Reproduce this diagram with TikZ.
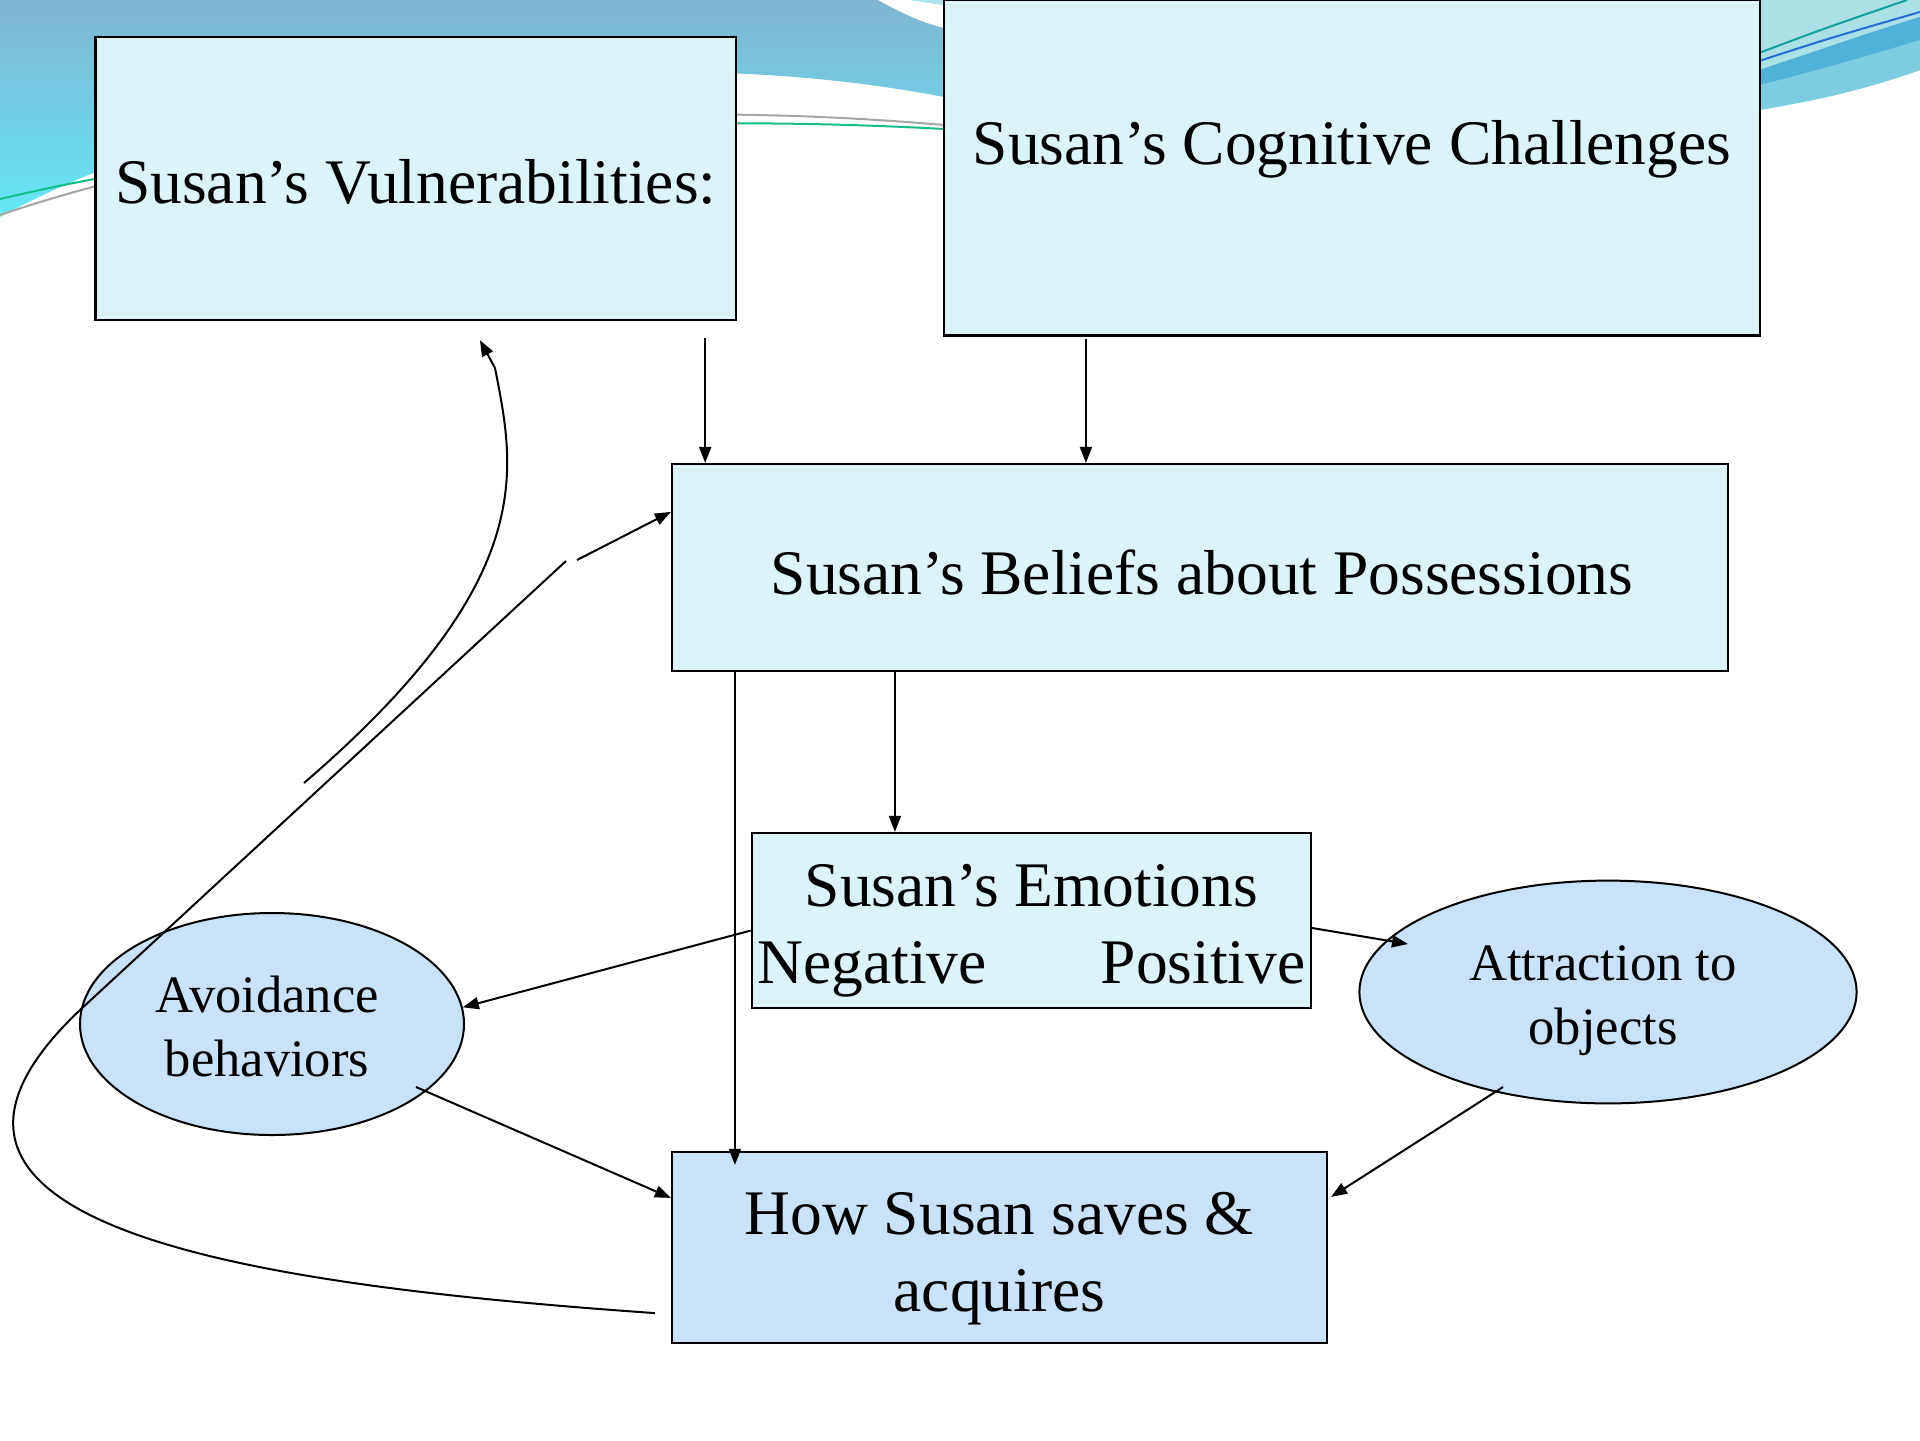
\documentclass[tikz,border=0pt]{standalone}
\usepackage{fontspec}
\setmainfont{Liberation Serif}
\usetikzlibrary{arrows.meta,shapes.geometric,calc}
\definecolor{boxfill}{RGB}{218,244,248}
\definecolor{ovalfill}{RGB}{200,226,250}
\definecolor{tlA}{RGB}{128,180,210}
\definecolor{tlB}{RGB}{100,232,244}
\definecolor{ltcyan}{RGB}{170,228,236}
\definecolor{rteal}{RGB}{170,224,230}
\definecolor{rlow}{RGB}{125,205,225}
\definecolor{rdark}{RGB}{80,178,215}
\definecolor{tealline}{RGB}{20,160,160}
\definecolor{blueline}{RGB}{40,110,210}
\definecolor{linegreen}{RGB}{20,190,140}
\newcommand\boxfont{\fontsize{31.75pt}{38.5pt}\selectfont}
\newcommand\ovalfont{\fontsize{26.3pt}{31.75pt}\selectfont}
\begin{document}
\begin{tikzpicture}[x=0.5pt,y=-0.5pt,
  box/.style={draw=black, line width=1.1pt, fill=boxfill, inner sep=0pt},
  oval/.style={ellipse, draw=black, line width=1pt, fill=ovalfill, inner sep=0pt},
  btext/.style={inner sep=0pt, align=center, font=\boxfont},
  otext/.style={inner sep=0pt, align=center, font=\ovalfont},
  conn/.style={line width=1pt, draw=black},
  arr/.style={conn, -{Triangle[length=8pt,width=6pt]}}]
\useasboundingbox (0,0) rectangle (1920,1440);
\fill[white] (0,0) rectangle (1920,1440);
% top-left swoosh
\shade[top color=tlA, bottom color=tlB] (0,0) -- (944,0) -- (944,97) .. controls (650,40) and (250,80) .. (0,217) -- cycle;
\fill[white] (878,0) .. controls (900,12) and (920,22) .. (944,28) -- (944,5) .. controls (930,3) and (918,1) .. (910,0) -- cycle;
\fill[ltcyan] (910,0) .. controls (918,1) and (930,3) .. (944,5) -- (944,0) -- cycle;
\draw[gray!70, line width=1pt] (0,215) .. controls (250,130) and (600,95) .. (944,125);
\draw[linegreen, line width=1pt] (0,199) .. controls (250,140) and (600,110) .. (944,129);
% top-right swoosh
\fill[rteal] (1759,0) -- (1920,0) -- (1920,70) .. controls (1870,88) and (1820,100) .. (1759,110) -- cycle;
\fill[rlow] (1759,85) .. controls (1820,70) and (1870,55) .. (1920,40) -- (1920,70) .. controls (1870,88) and (1820,100) .. (1759,110) -- cycle;
\fill[rdark] (1759,70) .. controls (1820,50) and (1870,32) .. (1920,17) -- (1920,40) .. controls (1870,55) and (1820,70) .. (1759,85) -- cycle;
\draw[tealline, line width=1pt] (1759,53) .. controls (1820,30) .. (1907,0);
\draw[blueline, line width=1pt] (1759,61) .. controls (1830,38) .. (1920,12);
% boxes and ovals
\node[box, minimum width=320.25pt, minimum height=141.5pt] (vul) at (415.8,178.2) {};
\node[box, minimum width=407.8pt, minimum height=167.75pt] (cog) at (1351.8,167.75) {};
\node[box, minimum width=528pt, minimum height=103.5pt] (bel) at (1200,567.5) {};
\node[box, minimum width=279.5pt, minimum height=87.5pt] (emo) at (1031.5,920.5) {};
\node[box, fill=ovalfill, minimum width=327.5pt, minimum height=95.5pt] (how) at (999.5,1247.5) {};
\node[oval, minimum width=192pt, minimum height=111pt] (avoid) at (272,1024) {};
\node[oval, minimum width=248.6pt, minimum height=111.4pt] (attr) at (1608,992) {};
% texts
\node[btext] (vultext) at (415.8,182) {Susan’s Vulnerabilities:};
\node[btext] (cogtext) at (1352,149) {Susan’s Cognitive Challenges};
\node[btext] (beltext) at (1202,572.5) {Susan’s Beliefs about Possessions};
\node[btext] (emotext) at (1031.5,930.5) {Susan’s Emotions\\\makebox[274pt]{Negative\hfill Positive}};
\node[btext] (howtext) at (999.5,1258.5) {How Susan saves \&\\acquires};
\node[otext] (avoidtext) at (267,1026.5) {Avoidance\\behaviors};
\node[otext] (attrtext) at (1603,1000.5) {Attraction to\\objects};
% connectors
\coordinate (v1) at ($(vul.south east)+(-32,17)$);
\draw[arr] (v1) -- (v1 |- bel.north);
\coordinate (c1) at ($(cog.south west)+(143,2)$);
\draw[arr] (c1) -- (c1 |- bel.north);
\coordinate (b1) at ($(bel.south west)+(224,0)$);
\draw[arr] (b1) -- (b1 |- emo.north);
\coordinate (b2) at ($(bel.south west)+(64,0)$);
\draw[arr] (b2) -- ($(b2 |- how.north)+(0,14)$);
\draw[arr] ($(emo.west)+(0,10)$) -- (avoid.5);
\draw[arr] ($(emo.east)+(0,7.5)$) -- ($(attr.center)+(-200,-48)$);
\draw[arr] ($(avoid.center)+(144,63)$) -- ($(how.north west)+(0,47)$);
\draw[arr] ($(attr.center)+(-105,95)$) -- ($(how.north east)+(3,46)$);
\coordinate (l0) at ($(how.south west)+(-16,-31)$);
\coordinate (l1) at (80,1010);
\coordinate (l2) at (566,561);
\draw[conn] (l0) .. controls (256,1285) and (-150,1228) .. (l1) -- (l2);
\coordinate (l3) at (577,560);
\draw[arr] (l3) -- ($(bel.north west)+(0,49)$);
\coordinate (k0) at (304,783);
\coordinate (k1) at (495,368);
\draw[arr] (k0) .. controls (540,580) and (515,470) .. (k1) -- ($(vul.south west)+(385.5,19.4)$);
\end{tikzpicture}
\end{document}
